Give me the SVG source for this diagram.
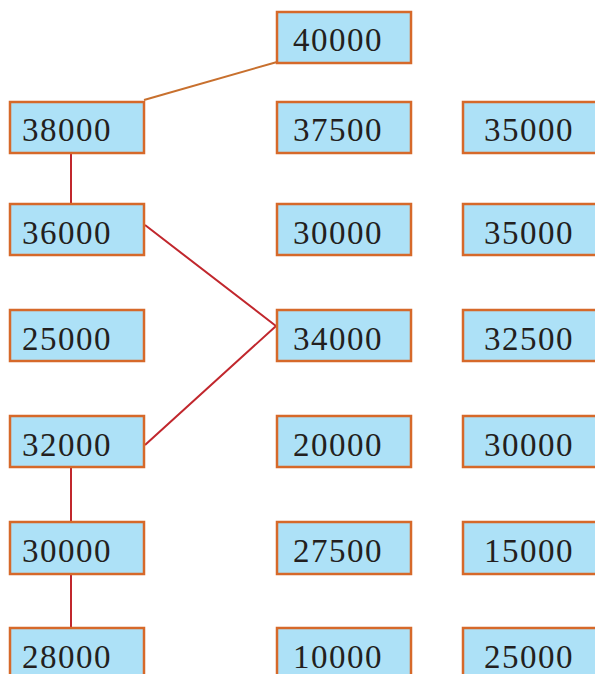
<svg xmlns="http://www.w3.org/2000/svg" width="595" height="674" viewBox="0 0 595 674">
<style>
.box{fill:#ade1f7;stroke:#d6692a;stroke-width:2.5}
.t{font-family:"Liberation Serif","Times New Roman",serif;font-size:33px;letter-spacing:1.5px;fill:#231f20}
.r{stroke:#c1272d;stroke-width:2;fill:none}
.o{stroke:#c8702e;stroke-width:2;fill:none}
</style>
<rect width="595" height="674" fill="#fff"/>
<g id="connectors">
<line class="o" x1="144" y1="100" x2="277" y2="62"/>
<line class="r" x1="71" y1="153" x2="71" y2="204"/>
<polyline class="r" points="145,225 276,326 145,445"/>
<line class="r" x1="71" y1="467" x2="71" y2="523"/>
<line class="r" x1="71" y1="574" x2="71" y2="628"/>
</g>
<g id="n40000"><rect class="box" x="277" y="12" width="134" height="51"/><text class="t" x="293" y="51">40000</text></g>
<g id="n38000"><rect class="box" x="10" y="102" width="134" height="51"/><text class="t" x="22" y="141">38000</text></g>
<g id="n37500"><rect class="box" x="277" y="102" width="134" height="51"/><text class="t" x="293" y="141">37500</text></g>
<g id="n35000a"><rect class="box" x="463" y="102" width="134" height="51"/><text class="t" x="484" y="141">35000</text></g>
<g id="n36000"><rect class="box" x="10" y="204" width="134" height="51"/><text class="t" x="22" y="244">36000</text></g>
<g id="n30000a"><rect class="box" x="277" y="204" width="134" height="51"/><text class="t" x="293" y="244">30000</text></g>
<g id="n35000b"><rect class="box" x="463" y="204" width="134" height="51"/><text class="t" x="484" y="244">35000</text></g>
<g id="n25000a"><rect class="box" x="10" y="310" width="134" height="51"/><text class="t" x="22" y="350">25000</text></g>
<g id="n34000"><rect class="box" x="277" y="310" width="134" height="51"/><text class="t" x="293" y="350">34000</text></g>
<g id="n32500"><rect class="box" x="463" y="310" width="134" height="51"/><text class="t" x="484" y="350">32500</text></g>
<g id="n32000"><rect class="box" x="10" y="416" width="134" height="51"/><text class="t" x="22" y="456">32000</text></g>
<g id="n20000"><rect class="box" x="277" y="416" width="134" height="51"/><text class="t" x="293" y="456">20000</text></g>
<g id="n30000b"><rect class="box" x="463" y="416" width="134" height="51"/><text class="t" x="484" y="456">30000</text></g>
<g id="n30000c"><rect class="box" x="10" y="522" width="134" height="52"/><text class="t" x="22" y="562">30000</text></g>
<g id="n27500"><rect class="box" x="277" y="522" width="134" height="52"/><text class="t" x="293" y="562">27500</text></g>
<g id="n15000"><rect class="box" x="463" y="522" width="134" height="52"/><text class="t" x="484" y="562">15000</text></g>
<g id="n28000"><rect class="box" x="10" y="628" width="134" height="52"/><text class="t" x="22" y="668">28000</text></g>
<g id="n10000"><rect class="box" x="277" y="628" width="134" height="52"/><text class="t" x="293" y="668">10000</text></g>
<g id="n25000b"><rect class="box" x="463" y="628" width="134" height="52"/><text class="t" x="484" y="668">25000</text></g>
</svg>
